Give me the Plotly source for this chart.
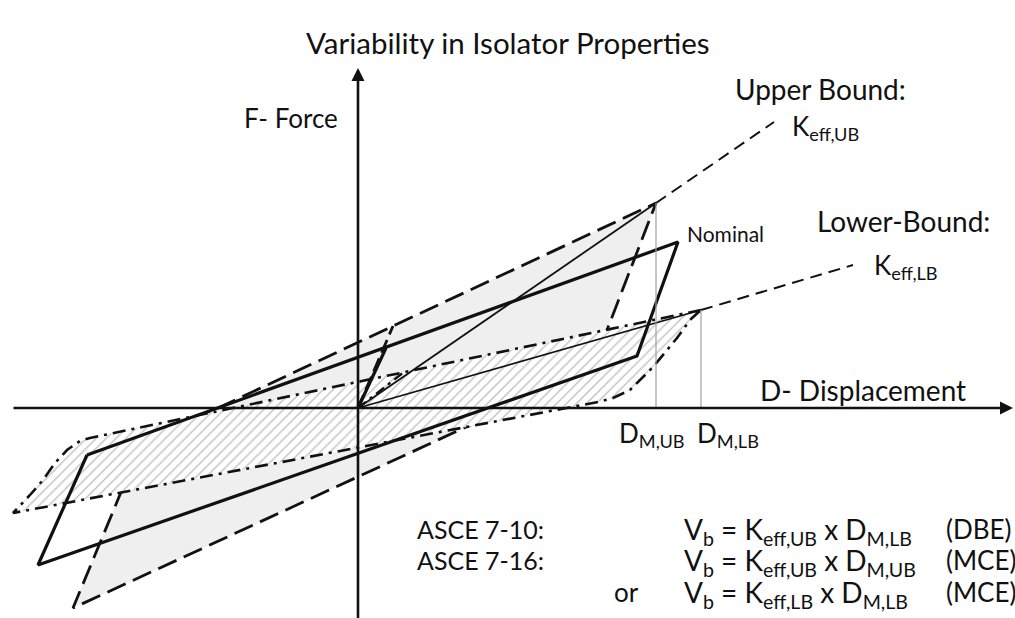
import plotly.graph_objects as go

# Hysteresis loops in (displacement, force) units, origin at the axis crossing
ub_loop_d = [-2.17, 2.98, 2.34, -2.85, -2.17]
ub_loop_f = [-0.36, 2.05, 0.39, -2.00, -0.36]
ub_load_d = [0.0, 0.35]
ub_load_f = [0.0, 0.82]

nom_loop_d = [-2.71, 3.20, 2.79, -3.20, -2.71]
nom_loop_f = [-0.47, 1.66, 0.52, -1.57, -0.47]
nom_load_d = [0.0, 0.28]
nom_load_f = [0.0, 0.60]

lb_loop_d = [3.43, -2.68, -2.78, -2.91, -3.03, -3.15, -3.28, -3.41, -3.45,
             2.40, 2.55, 2.72, 2.95, 3.19, 3.32, 3.43]
lb_loop_f = [0.98, -0.30, -0.33, -0.42, -0.55, -0.72, -0.87, -1.00, -1.05,
             0.06, 0.10, 0.18, 0.41, 0.70, 0.88, 0.98]
lb_load_d = [0.0, 0.46]
lb_load_f = [0.0, 0.36]

# Effective stiffness secants and their extensions
ub_peak = (2.98, 2.05)
lb_peak = (3.43, 0.98)
ub_ext = (4.16, 2.86)
lb_ext = (4.95, 1.43)

# Axis extents
x_axis = (-3.46, 6.55)
y_axis = (-2.12, 3.40)

X_RANGE = [-3.58, 6.57]
Y_RANGE = [-2.10, 4.08]

FONT = "Lato"
INK = "#111111"

fig = go.Figure()

# Upper-bound loop: light grey fill, dashed outline
fig.add_trace(go.Scatter(
    x=ub_loop_d, y=ub_loop_f, mode="lines", fill="toself",
    fillcolor="#efefef",
    line=dict(color=INK, width=2.8, dash="20px,8px"),
    hoverinfo="skip"))

# Lower-bound loop: hatched fill, dash-dot outline
fig.add_trace(go.Scatter(
    x=lb_loop_d, y=lb_loop_f, mode="lines", fill="toself",
    fillcolor="white",
    fillpattern=dict(shape="/", fgcolor="#8a8a8a", bgcolor="white",
                     size=7, solidity=0.22),
    line=dict(color=INK, width=2.6, dash="13px,6px,3px,6px"),
    hoverinfo="skip"))

# Nominal loop
fig.add_trace(go.Scatter(
    x=nom_loop_d, y=nom_loop_f, mode="lines",
    line=dict(color=INK, width=3.2), hoverinfo="skip"))

# Initial loading branches
fig.add_trace(go.Scatter(x=nom_load_d, y=nom_load_f, mode="lines",
                         line=dict(color=INK, width=3.2), hoverinfo="skip"))
fig.add_trace(go.Scatter(x=ub_load_d, y=ub_load_f, mode="lines",
                         line=dict(color=INK, width=2.8, dash="14px,6px"),
                         hoverinfo="skip"))
fig.add_trace(go.Scatter(x=lb_load_d, y=lb_load_f, mode="lines",
                         line=dict(color=INK, width=2.4, dash="10px,5px,3px,5px"),
                         hoverinfo="skip"))

# Secant stiffness lines
fig.add_trace(go.Scatter(x=[0, ub_peak[0]], y=[0, ub_peak[1]], mode="lines",
                         line=dict(color=INK, width=1.8), hoverinfo="skip"))
fig.add_trace(go.Scatter(x=[0, lb_peak[0]], y=[0, lb_peak[1]], mode="lines",
                         line=dict(color=INK, width=1.8), hoverinfo="skip"))
fig.add_trace(go.Scatter(x=[ub_peak[0], ub_ext[0]], y=[ub_peak[1], ub_ext[1]],
                         mode="lines",
                         line=dict(color=INK, width=2.0, dash="12px,7px"),
                         hoverinfo="skip"))
fig.add_trace(go.Scatter(x=[lb_peak[0], lb_ext[0]], y=[lb_peak[1], lb_ext[1]],
                         mode="lines",
                         line=dict(color=INK, width=2.0, dash="12px,7px"),
                         hoverinfo="skip"))

# Peak displacement markers
for px, py in (ub_peak, lb_peak):
    fig.add_trace(go.Scatter(x=[px, px], y=[0, py], mode="lines",
                             line=dict(color="#a0a0a0", width=1.2),
                             hoverinfo="skip"))

annotations = []

# Axes with arrowheads
annotations.append(dict(x=x_axis[1], y=0, ax=x_axis[0], ay=0,
                        xref="x", yref="y", axref="x", ayref="y",
                        showarrow=True, arrowhead=2, arrowsize=1.0,
                        arrowwidth=2.6, arrowcolor=INK, text=""))
annotations.append(dict(x=0, y=y_axis[1], ax=0, ay=y_axis[0],
                        xref="x", yref="y", axref="x", ayref="y",
                        showarrow=True, arrowhead=2, arrowsize=1.0,
                        arrowwidth=2.6, arrowcolor=INK, text=""))


def label(text, x, y, size, xanchor="left", yanchor="middle"):
    annotations.append(dict(text=text, x=x, y=y, xref="x", yref="y",
                            showarrow=False, xanchor=xanchor, yanchor=yanchor,
                            font=dict(family=FONT, size=size, color=INK)))


label("Variability in Isolator Properties", 1.50, 3.66, 29.5, xanchor="center")
label("F- Force", -0.18, 2.90, 26, xanchor="right")
label("D- Displacement", 4.00, 0.18, 28)
label("Nominal", 3.27, 1.75, 21)
label("Upper Bound:", 3.75, 3.19, 28)
label("K<sub>eff,UB</sub>", 4.32, 2.81, 26)
label("Lower-Bound:", 4.57, 1.87, 28)
label("K<sub>eff,LB</sub>", 5.14, 1.42, 26)
label("D<sub>M,UB</sub>", 2.59, -0.26, 26)
label("D<sub>M,LB</sub>", 3.37, -0.26, 26)

label("ASCE 7-10:", 0.57, -1.21, 25)
label("ASCE 7-16:", 0.57, -1.52, 25)
label("or", 2.54, -1.84, 26)
label("V<sub>b</sub> = K<sub>eff,UB</sub> x D<sub>M,LB</sub>", 3.24, -1.23, 28)
label("V<sub>b</sub> = K<sub>eff,UB</sub> x D<sub>M,UB</sub>", 3.24, -1.54, 28)
label("V<sub>b</sub> = K<sub>eff,LB</sub> x D<sub>M,LB</sub>", 3.24, -1.86, 28)
label("(DBE)", 5.86, -1.21, 26)
label("(MCE)", 5.86, -1.52, 26)
label("(MCE)", 5.86, -1.84, 26)

fig.update_layout(
    width=1015, height=618,
    margin=dict(l=0, r=0, t=0, b=0),
    paper_bgcolor="white", plot_bgcolor="white",
    showlegend=False,
    xaxis=dict(range=X_RANGE, visible=False, fixedrange=True),
    yaxis=dict(range=Y_RANGE, visible=False, fixedrange=True),
    annotations=annotations,
)

fig.write_html("out.html")
